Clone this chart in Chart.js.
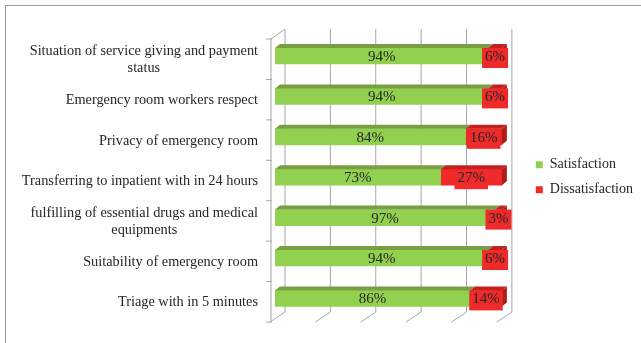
<!DOCTYPE html>
<html>
<head>
<meta charset="utf-8">
<script src="https://cdn.jsdelivr.net/npm/chart.js@4.4.0/dist/chart.umd.min.js"></script>
<style>
  html, body { margin: 0; padding: 0; background: #fff; overflow: hidden; }
  #marco { position: absolute; left: 5px; top: 5px; width: 700px; height: 400px; border: 1px solid #9a9a9a; }
  #caja { position: absolute; left: 0; top: 0; width: 641px; height: 343px; }
</style>
</head>
<body>
<div id="marco"></div>
<div id="caja"><canvas id="grafico" width="641" height="343"></canvas></div>
<script>
// datos del grafico
var categorias = [
    ['Situation of service giving and payment', 'status'],
    'Emergency room workers respect',
    'Privacy of emergency room',
    'Transferring to inpatient with in 24 hours',
    ['fulfilling of essential drugs and medical', 'equipments'],
    'Suitability of emergency room',
    'Triage with in 5 minutes'
];
var satisfaccion = [94, 94, 84, 73, 97, 94, 86];
var insatisfaccion = [6, 6, 16, 27, 3, 6, 14];
var marcasEjeX = [0, 20, 40, 60, 80, 100];

var fuente = "'Liberation Serif', 'Times New Roman', serif";
var colorTexto = '#262626';
var colorLinea = '#a6a6a6';

Chart.defaults.font.family = fuente;
Chart.defaults.font.size = 14;
Chart.defaults.color = colorTexto;

// profundidad 3D (paredes y barras)
var prof = { dx: 15, dy: -10 };
var profBarra = { dx: 5, dy: -4 };

// dibuja paredes, piso y rejilla antes de las barras
var pluginParedes = {
    id: 'paredes',
    beforeDatasetsDraw: function(chart) {
        var ctx = chart.ctx;
        var area = chart.chartArea;
        var x = chart.scales.x;
        var frenteTop = area.top + 3.2;
        var frenteBot = area.bottom + 3.4;
        var frenteX = x.getPixelForValue(0) - 4;
        ctx.save();
        ctx.strokeStyle = colorLinea;
        ctx.lineWidth = 1;
        ctx.beginPath();
        // pared izquierda
        ctx.moveTo(frenteX, frenteTop);
        ctx.lineTo(frenteX, frenteBot);
        ctx.moveTo(frenteX, frenteTop);
        ctx.lineTo(frenteX + prof.dx - 1, frenteTop + prof.dy);
        // rejilla del fondo y lineas del piso
        marcasEjeX.forEach(function(v) {
            var px = x.getPixelForValue(v);
            ctx.moveTo(px + 10, frenteTop + prof.dy);
            ctx.lineTo(px + 10, frenteBot + prof.dy);
            ctx.moveTo(px - 5, frenteBot);
            ctx.lineTo(px + 10, frenteBot + prof.dy);
        });
        // marcas del eje de categorias
        for (var i = 0; i <= categorias.length; i++) {
            var py = frenteTop + i * (frenteBot - frenteTop) / categorias.length;
            ctx.moveTo(frenteX - 5, py);
            ctx.lineTo(frenteX + 1, py);
        }
        ctx.stroke();
        ctx.restore();
    },
    afterDatasetsDraw: function(chart) {
        var ctx = chart.ctx;
        var topes = ['#7a9e44', '#c42020'];
        ctx.save();
        chart.data.datasets.forEach(function(ds, d) {
            var meta = chart.getDatasetMeta(d);
            meta.data.forEach(function(bar) {
                var x0 = Math.min(bar.base, bar.x), x1 = Math.max(bar.base, bar.x);
                var top = bar.y - bar.height / 2, bot = bar.y + bar.height / 2;
                // cara superior
                ctx.fillStyle = topes[d];
                ctx.beginPath();
                ctx.moveTo(x0, top);
                ctx.lineTo(x1, top);
                ctx.lineTo(x1 + profBarra.dx, top + profBarra.dy);
                ctx.lineTo(x0 + profBarra.dx, top + profBarra.dy);
                ctx.closePath();
                ctx.fill();
                // cara lateral de la ultima serie
                if (d === chart.data.datasets.length - 1) {
                    ctx.fillStyle = '#b01c1c';
                    ctx.beginPath();
                    ctx.moveTo(x1, top);
                    ctx.lineTo(x1 + profBarra.dx, top + profBarra.dy);
                    ctx.lineTo(x1 + profBarra.dx, bot + profBarra.dy);
                    ctx.lineTo(x1, bot);
                    ctx.closePath();
                    ctx.fill();
                }
            });
        });
        // etiquetas de porcentaje
        ctx.font = '15px ' + fuente;
        ctx.textAlign = 'center';
        ctx.textBaseline = 'middle';
        chart.data.datasets.forEach(function(ds, d) {
            var meta = chart.getDatasetMeta(d);
            meta.data.forEach(function(bar, i) {
                var txt = ds.data[i] + '%';
                var cx = (bar.base + bar.x) / 2;
                var cy = bar.y + 1;
                if (d === 1) {
                    var w = ctx.measureText(txt).width + 6;
                    ctx.fillStyle = '#ee2a2a';
                    ctx.fillRect(cx - w / 2, cy - 9, w, 20);
                }
                ctx.fillStyle = colorTexto;
                ctx.fillText(txt, cx, cy);
            });
        });
        ctx.restore();
    },
    afterDraw: function(chart) {
        // etiquetas de categorias (multilinea centradas como en Excel)
        var ctx = chart.ctx;
        var y = chart.scales.y;
        var derecha = chart.chartArea.left - 17;
        ctx.save();
        ctx.font = '14.3px ' + fuente;
        ctx.fillStyle = colorTexto;
        ctx.textAlign = 'center';
        ctx.textBaseline = 'middle';
        categorias.forEach(function(cat, i) {
            var lineas = Array.isArray(cat) ? cat : [cat];
            var ancho = 0;
            lineas.forEach(function(l) { ancho = Math.max(ancho, ctx.measureText(l).width); });
            var cy = y.getPixelForValue(i) + 4;
            var alto = 17;
            lineas.forEach(function(l, k) {
                ctx.fillText(l, derecha - ancho / 2, cy + (k - (lineas.length - 1) / 2) * alto);
            });
        });
        ctx.restore();
    }
};

var lienzo = document.getElementById('grafico');
var grafico = new Chart(lienzo, {
    type: 'bar',
    data: {
        labels: categorias,
        datasets: [
            { label: 'Satisfaction', data: satisfaccion, backgroundColor: '#92d050', borderWidth: 0, barThickness: 16 },
            { label: 'Dissatisfaction', data: insatisfaccion, backgroundColor: '#ee2a2a', borderWidth: 0, barThickness: 16 }
        ]
    },
    options: {
        indexAxis: 'y',
        responsive: false,
        animation: false,
        layout: { padding: { left: 0, top: 35.8, bottom: 24.4, right: -2 } },
        scales: {
            x: { display: false, stacked: true, min: 0, max: 110.1 },
            y: {
                stacked: true,
                ticks: { display: false },
                grid: { display: false },
                border: { display: false },
                afterFit: function(s) { s.width = 275; }
            }
        },
        plugins: {
            tooltip: { enabled: false },
            legend: {
                position: 'right',
                labels: {
                    boxWidth: 7,
                    boxHeight: 7,
                    padding: 11,
                    color: colorTexto,
                    font: { family: fuente, size: 14 }
                }
            }
        }
    },
    plugins: [pluginParedes]
});
</script>
</body>
</html>
